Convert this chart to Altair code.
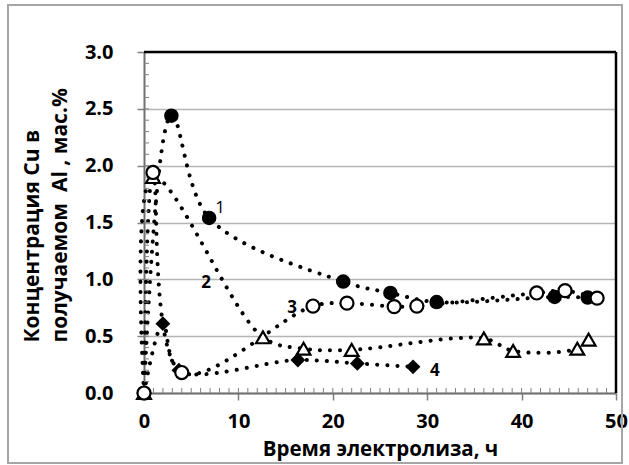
import altair as alt
import pandas as pd

# ---- data ----
t1 = [0, 2.9, 6.9, 21.1, 26.1, 31.0, 43.5, 47.0]
c1 = [0, 2.44, 1.54, 0.98, 0.88, 0.80, 0.845, 0.84]

t2 = [0, 0.95, 12.6, 16.9, 22.0, 36.0, 39.1, 45.9, 47.1]
c2 = [0, 1.90, 0.49, 0.39, 0.38, 0.48, 0.37, 0.39, 0.47]

t3 = [0, 0.95, 4.0, 17.9, 21.5, 26.5, 28.9, 41.6, 44.6, 48.0]
c3 = [0, 1.94, 0.18, 0.765, 0.79, 0.76, 0.765, 0.88, 0.90, 0.835]

t4 = [0, 2.0, 3.7, 16.3, 22.6, 28.5]
c4 = [0, 0.61, 0.20, 0.29, 0.26, 0.23]

label_text = ["1", "2", "3", "4"]
label_t = [8.05, 6.57, 15.7, 30.8]
label_c = [1.63, 0.97, 0.75, 0.19]

x_ticks = [0, 10, 20, 30, 40, 50]
y_ticks = [0.0, 0.5, 1.0, 1.5, 2.0, 2.5, 3.0]
x_minor = list(range(1, 50))
y_minor = [round(i * 0.1, 1) for i in range(1, 30)]

x_title = "Время электролиза, ч"
y_title = ["Концентрация Cu в", "получаемом\u00a0\u00a0Al , мас.%"]

W, H = 472, 341
FONT = "Open Sans"


def frame(name, t, c):
    return pd.DataFrame({"series": name, "idx": list(range(len(t))), "t": t, "c": c})


d1 = frame("1", t1, c1)
d2 = frame("2", t2, c2)
d3 = frame("3", t3, c3)
d4 = frame("4", t4, c4)
all_df = pd.concat([d1, d2, d3, d4], ignore_index=True)

xs = alt.Scale(domain=[0, 50], nice=False, zero=False)
ys = alt.Scale(domain=[0, 3], nice=False, zero=False)

x_axis = alt.Axis(
    values=x_ticks, format="d", grid=False,
    tickSize=7, tickColor="#808080", tickWidth=1.5,
    domainColor="#707070", domainWidth=2,
    labelFont=FONT, labelFontWeight="bold", labelFontSize=20, labelColor="black",
    labelPadding=11, labelFlush=False,
    title=x_title, titleFont=FONT, titleFontWeight="bold",
    titleFontSize=20.5, titleColor="black", titleY=62.5, titleBaseline="alphabetic",
)
y_axis = alt.Axis(
    values=y_ticks, format=".1f", grid=True, gridColor="#b5b5b5", gridWidth=1.3,
    tickSize=7, tickColor="#808080", tickWidth=1.5,
    domainColor="#707070", domainWidth=2,
    labelFont=FONT, labelFontWeight="bold", labelFontSize=20, labelColor="black",
    labelPadding=24,
    title=y_title,
    titleFont=FONT, titleFontWeight="bold", titleFontSize=21, titleColor="black",
    titleAngle=270, titleX=-106, titleY=290, titleAlign="left",
    titleBaseline="alphabetic", titleLineHeight=28,
)


def X():
    return alt.X("t:Q", scale=xs, axis=x_axis)


def Y():
    return alt.Y("c:Q", scale=ys, axis=y_axis)


one = pd.DataFrame({"a": [0]})

border = alt.Chart(one).mark_rect(
    fill="white", fillOpacity=0, stroke="#a6a6a6", strokeWidth=2
).encode(x=alt.value(-136), x2=alt.value(478), y=alt.value(-47), y2=alt.value(411))

lines = alt.Chart(all_df).mark_line(
    interpolate="catmull-rom", strokeDash=[0.1, 10], strokeCap="round",
    strokeWidth=4, color="black",
).encode(x=X(), y=Y(), detail="series:N", order="idx:Q")

xm = alt.Chart(pd.DataFrame({"t": x_minor})).mark_rule(color="#808080", strokeWidth=1).encode(
    x=X(), y=alt.value(H), y2=alt.value(H - 5)
)
ym = alt.Chart(pd.DataFrame({"c": y_minor})).mark_rule(color="#808080", strokeWidth=1).encode(
    y=Y(), x=alt.value(0), x2=alt.value(5)
)

top_rule = alt.Chart(one).mark_rule(color="black", strokeWidth=2.5).encode(
    x=alt.value(0), x2=alt.value(W), y=alt.value(0)
)
right_rule = alt.Chart(one).mark_rule(color="black", strokeWidth=2.5).encode(
    x=alt.value(W), y=alt.value(0), y2=alt.value(H)
)

p1 = alt.Chart(d1).mark_point(shape="circle", filled=True, color="black", size=210, opacity=1).encode(x=X(), y=Y())
p3 = alt.Chart(d3).mark_point(shape="circle", fill="white", stroke="black", strokeWidth=2.2, size=170, opacity=1, fillOpacity=1).encode(x=X(), y=Y())
p2 = alt.Chart(d2).mark_point(shape="triangle-up", fill="white", stroke="black", strokeWidth=2.2, size=190, opacity=1, fillOpacity=1).encode(x=X(), y=Y())
p4 = alt.Chart(d4).mark_point(shape="diamond", filled=True, color="black", size=220, opacity=1).encode(x=X(), y=Y())

lab = pd.DataFrame({"txt": label_text, "t": label_t, "c": label_c})
lab_regular = alt.Chart(lab).transform_filter(alt.datum.txt == "1").mark_text(
    font=FONT, fontSize=17, fontWeight="normal", color="black", baseline="middle", align="center"
).encode(x=X(), y=Y(), text="txt:N")
lab_bold = alt.Chart(lab).transform_filter(alt.datum.txt != "1").mark_text(
    font=FONT, fontSize=17, fontWeight="bold", color="black", baseline="middle", align="center"
).encode(x=X(), y=Y(), text="txt:N")

chart = alt.layer(
    border, lines, xm, ym, top_rule, right_rule, p2, p4, p1, p3, lab_regular, lab_bold
).properties(
    width=W, height=H,
    autosize=alt.AutoSizeParams(type="none"),
    padding={"left": 144, "top": 52, "right": 13, "bottom": 72},
    background="white",
).configure_view(stroke=None)

chart.save("out.html", embed_options={"renderer": "svg", "actions": False})
